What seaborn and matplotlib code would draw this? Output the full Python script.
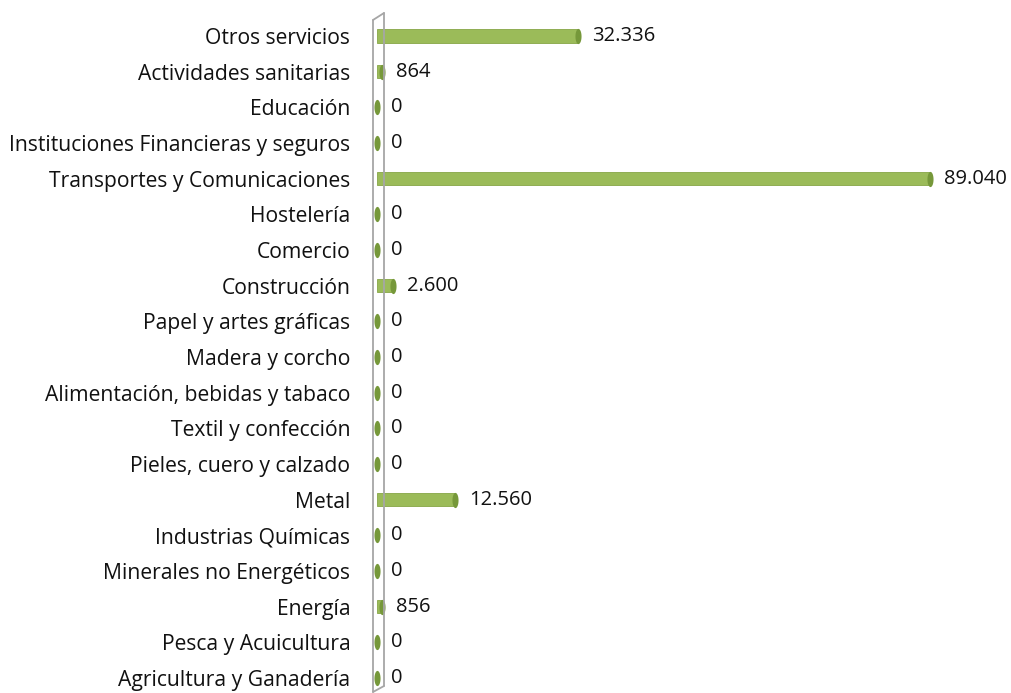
import numpy as np
import pandas as pd
import seaborn as sns
import matplotlib.pyplot as plt
from matplotlib.lines import Line2D
from matplotlib.path import Path

# data, top to bottom as in the chart
sectors = ["Otros servicios", "Actividades sanitarias", "Educación",
           "Instituciones Financieras y seguros", "Transportes y Comunicaciones",
           "Hostelería", "Comercio", "Construcción", "Papel y artes gráficas",
           "Madera y corcho", "Alimentación, bebidas y tabaco", "Textil y confección",
           "Pieles, cuero y calzado", "Metal", "Industrias Químicas",
           "Minerales no Energéticos", "Energía", "Pesca y Acuicultura",
           "Agricultura y Ganadería"]
values = [32336, 864, 0, 0, 89040, 0, 0, 2600, 0, 0, 0, 0, 0, 12560, 0, 0, 856, 0, 0]

df = pd.DataFrame({"sector": sectors, "value": values})

sns.set_theme(style="white")
plt.rcParams['font.family'] = ['Open Sans', 'DejaVu Sans']

W, H = 1012, 693
fig = plt.figure(figsize=(W / 100, H / 100), dpi=100)
ax = fig.add_axes([360 / W, 0, 1 - 360 / W, 1])

sns.barplot(data=df, x="value", y="sector", order=sectors, color="#9bbb59",
            width=0.37, edgecolor="#86a646", linewidth=0.6, ax=ax, saturation=1)

# cylinder end caps (narrow vertical ellipse)
t = np.linspace(0, 2 * np.pi, 40)
cap = Path(np.column_stack([0.4 * np.cos(t), np.sin(t)]))
ax.scatter(df["value"], df["sector"], marker=cap, s=120, color="#76983a",
           zorder=3, linewidths=0)

px = 0.00621  # pixels per unit
ax.set_xlim(-17 / px, (W - 377) / px)
sp = (678 - 36) / 18
ax.set_ylim(18 + 15 / sp, -36 / sp)

labels = [f"{v:,}".replace(",", ".") for v in values]
ax.bar_label(ax.containers[0], labels=labels, padding=10, fontsize=14.5, color="#111111")

ax.set_xlabel("")
ax.set_ylabel("")
ax.set_xticks([])
ax.tick_params(axis="y", length=0, pad=7, labelsize=15.2, labelcolor="#111111")
for s in ax.spines.values():
    s.set_visible(False)

# 3D axis wall
gray = "#a6a6a6"
def fl(xs, ys):
    fig.add_artist(Line2D([x / W for x in xs], [1 - y / H for y in ys],
                          color=gray, linewidth=1.3))
fl([373, 373], [20, 692])
fl([384, 384], [13, 686])
fl([373, 384], [20, 13])
fl([373, 384], [692, 686])

fig.savefig("out.png", dpi=100)
